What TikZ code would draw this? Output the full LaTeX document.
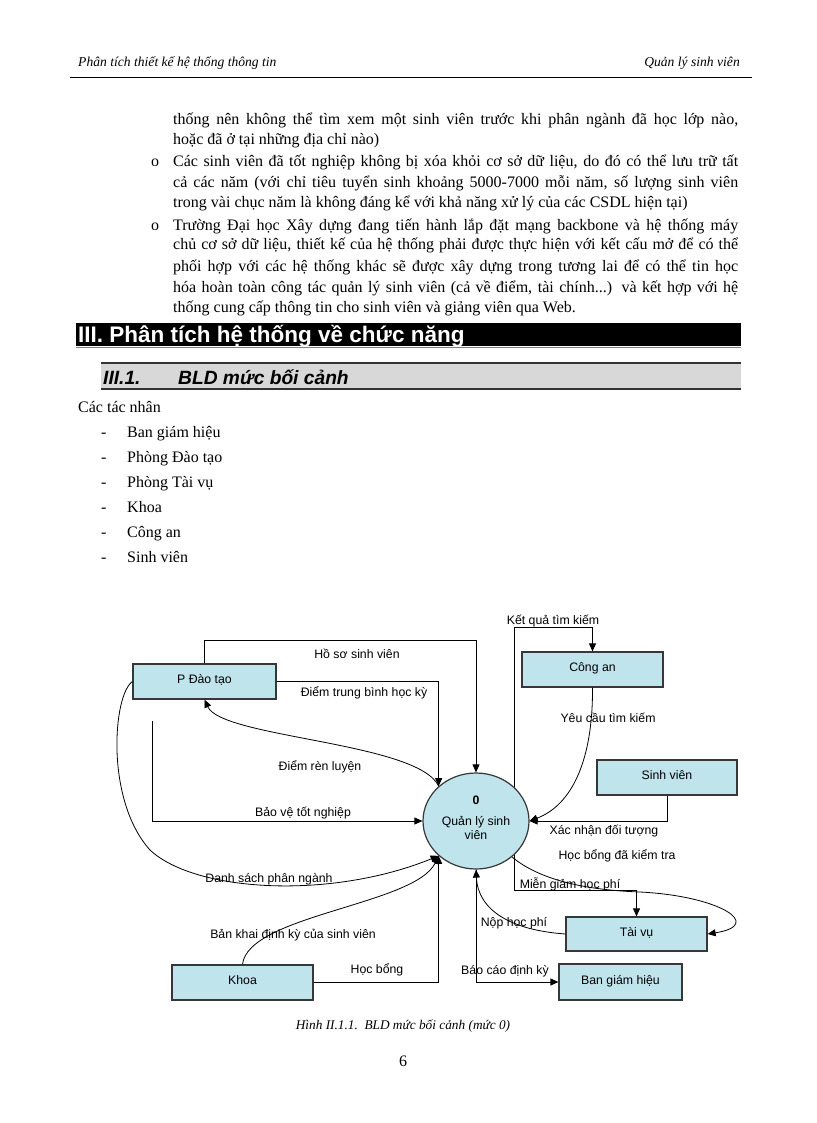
\documentclass[tikz,border=0pt]{standalone}
\usepackage{fontspec}
\setmainfont{Liberation Serif}
\newfontfamily\arial{Liberation Sans}
\usetikzlibrary{arrows.meta,shapes.geometric,calc}
\definecolor{boxfill}{RGB}{192,228,236}
\definecolor{boxline}{RGB}{55,55,55}
\definecolor{subgray}{RGB}{216,216,216}
\newcommand\diagfont{\arial\fontsize{12.3}{14}\selectfont}
\newcommand\bodyfont{\fontsize{16}{19}\selectfont}
\begin{document}
\begin{tikzpicture}[x=1pt,y=-1pt,
  entity/.style={draw=boxline,line width=1.2pt,fill=boxfill,minimum height=35pt,inner sep=0pt,font=\diagfont,text height=9pt,text depth=5pt},
  procnode/.style={ellipse,draw=boxline,line width=1.2pt,fill=boxfill,minimum width=106pt,minimum height=96pt,inner sep=0pt,align=center,font=\diagfont},
  flow/.style={draw=black,line width=0.8pt},
  arr/.style={flow,-{Triangle[length=8pt,width=7pt]}},
  lbl/.style={font=\diagfont,inner sep=0pt},
  body/.style={anchor=base west,inner sep=0pt,font=\bodyfont},
]
\fill[white] (0,0) rectangle (816,1123);
\useasboundingbox (0,0) rectangle (816,1123);

% header
\node[anchor=base west,inner sep=0pt,font=\fontsize{13.6}{15}\selectfont\itshape] (hl) at (78,67) {Phân tích thiết kế hệ thống thông tin};
\node[anchor=base east,inner sep=0pt,font=\fontsize{13.6}{15}\selectfont\itshape] (hr) at (740,67) {Quản lý sinh viên};
\draw[line width=0.9pt] (70,77) -- (752,77);

% body text
\node[body] (l1) at (173,125) {\makebox[565pt][s]{thống nên không thể tìm xem một sinh viên trước khi phân ngành đã học lớp nào,}};
\node[body] (l2) at (173,145) {hoặc đã ở tại những địa chỉ nào)};
\node[body] (b1) at (151,167) {o};
\node[body] (l3) at (173,167) {\makebox[565pt][s]{Các sinh viên đã tốt nghiệp không bị xóa khỏi cơ sở dữ liệu, do đó có thể lưu trữ tất}};
\node[body] (l4) at (173,188) {\makebox[565pt][s]{cả các năm (với chỉ tiêu tuyển sinh khoảng 5000-7000 mỗi năm, số lượng sinh viên}};
\node[body] (l5) at (173,208) {trong vài chục năm là không đáng kể với khả năng xử lý của các CSDL hiện tại)};
\node[body] (b2) at (151,230) {o};
\node[body] (l6) at (173,230) {\makebox[565pt][s]{Trường Đại học Xây dựng đang tiến hành lắp đặt mạng backbone và hệ thống máy}};
\node[body] (l7) at (173,250) {\makebox[565pt][s]{chủ cơ sở dữ liệu, thiết kế của hệ thống phải được thực hiện với kết cấu mở để có thể}};
\node[body] (l8) at (173,271) {\makebox[565pt][s]{phối hợp với các hệ thống khác sẽ được xây dựng trong tương lai để có thể tin học}};
\node[body] (l9) at (173,292) {\makebox[565pt][s]{hóa hoàn toàn công tác quản lý sinh viên (cả về điểm, tài chính...) và kết hợp với hệ}};
\node[body] (l10) at (173,312) {thống cung cấp thông tin cho sinh viên và giảng viên qua Web.};

% section heading
\fill[black] (76,323) rectangle (741,346);
\draw[gray,line width=0.8pt] (76,347.5) -- (741,347.5);
\node[anchor=base west,inner sep=0pt,text=white,font=\arial\bfseries\fontsize{22.5}{25}\selectfont] (sec) at (78,342) {III. Phân tích hệ thống về chức năng};

% subsection heading
\fill[subgray] (101,363) rectangle (741,389);
\draw[black!80,line width=1.3pt] (101,363) -- (741,363);
\draw[black!80,line width=1.1pt] (101,389) -- (741,389);
\node[anchor=base west,inner sep=0pt,font=\arial\bfseries\itshape\fontsize{19.2}{22}\selectfont] (subn) at (103,384) {III.1.};
\node[anchor=base west,inner sep=0pt,font=\arial\bfseries\itshape\fontsize{19.2}{22}\selectfont] (subt) at (178,384) {BLD mức bối cảnh};

% actors list
\node[body] (act) at (78,412) {Các tác nhân};
\foreach \yy/\tt [count=\i] in {437/Ban giám hiệu,462/Phòng Đào tạo,487/Phòng Tài vụ,512/Khoa,537/Công an,562/Sinh viên}{
  \node[body] (dash\i) at (101,\yy) {-};
  \node[body] (item\i) at (127,\yy) {\tt};
}

% diagram nodes
\node[entity,minimum width=143pt] (pdt) at (204.5,681.5) {P Đào tạo};
\node[entity,minimum width=141pt] (ca) at (592.5,669.5) {Công an};
\node[entity,minimum width=140pt] (sv) at (667,777.5) {Sinh viên};
\node[entity,minimum width=141pt,minimum height=34pt] (tv) at (636.5,934) {Tài vụ};
\node[entity,minimum width=123pt,minimum height=36pt] (bgh) at (620.5,982) {Ban giám hiệu};
\node[entity,minimum width=141pt] (khoa) at (242.5,982.5) {Khoa};
\node[procnode] (qlsv) at (476,821) {\textbf{0}\\[7pt]Quản lý sinh\\viên\rule[-7pt]{0pt}{7pt}};

\coordinate (bvstart) at (152,721);

% connectors
\draw[arr] (pdt.north) -- ++(0,-23) -| (qlsv.north);
\draw[arr] (pdt.east) -| (qlsv.137);
\draw[arr] (qlsv.137) .. controls (418,742) and (222,738) .. (pdt.south);
\draw[arr] (bvstart) |- (qlsv.west);
\draw[arr] (pdt.west) .. controls (113,695) and (105,800) .. (150,850) .. controls (195,892) and (330,900) .. (qlsv.223);
\draw[arr] (khoa.north) .. controls (248,915) and (415,905) .. (qlsv.223);
\draw[arr] (khoa.east) -| (qlsv.223);
\draw[arr] (qlsv.41) |- ($(ca.north)+(0,-24)$) -- (ca.north);
\draw[arr] (ca.south) .. controls (593,760) and (572,805) .. (qlsv.east);
\draw[arr] (sv.south) |- (qlsv.east);
\draw[arr] (qlsv.-41) |- ($(tv.north)+(0,-26)$) -- (tv.north);
\draw[arr] (qlsv.-45) .. controls (540,880) and (585,890) .. (640,892) .. controls (720,896) and (765,925) .. (tv.east);
\draw[arr] (tv.west) .. controls (510,930) and (478,910) .. (qlsv.south);
\draw[arr] (qlsv.south) |- (bgh.west);

% connector labels
\node[lbl] (t1) at (357,654) {Hồ sơ sinh viên};
\node[lbl] (t2) at (364,693) {Điểm trung bình học kỳ};
\node[lbl] (t3) at (320,767) {Điểm rèn luyện};
\node[lbl] (t4) at (303,813) {Bảo vệ tốt nghiệp};
\node[lbl] (t5) at (269,879) {Danh sách phân ngành};
\node[lbl] (t6) at (293,935) {Bản khai định kỳ của sinh viên};
\node[lbl] (t7) at (377,970) {Học bổng};
\node[lbl] (t8) at (553,621) {Kết quả tìm kiếm};
\node[lbl] (t9) at (608,718) {Yêu cầu tìm kiếm};
\node[lbl] (t10) at (604,831) {Xác nhận đối tượng};
\node[lbl] (t11) at (617,856) {Học bổng đã kiểm tra};
\node[lbl] (t12) at (570,884) {Miễn giảm học phí};
\node[lbl] (t13) at (514,923) {Nộp học phí};
\node[lbl] (t14) at (505,971) {Báo cáo định kỳ};

% caption and page number
\node[inner sep=0pt,font=\fontsize{13.3}{15}\selectfont\itshape] (cap) at (403,1026) {Hình II.1.1.\ \ BLD mức bối cảnh (mức 0)};
\node[inner sep=0pt,font=\bodyfont] (pg) at (403,1061) {6};
\end{tikzpicture}
\end{document}
